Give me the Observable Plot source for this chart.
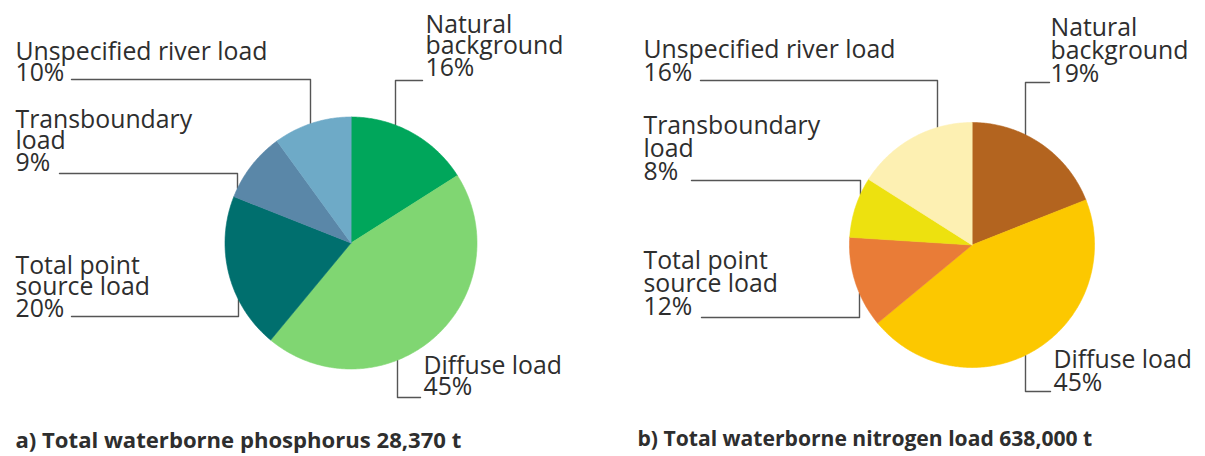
<!DOCTYPE html>
<html><head><meta charset="utf-8">
<script src="https://cdn.jsdelivr.net/npm/d3@7"></script>
<script src="https://cdn.jsdelivr.net/npm/@observablehq/plot@0.6"></script>
<style>
html,body{margin:0;padding:0;background:#fff;}
#chart{width:1205px;height:456px;}
</style>
</head><body><div id="chart"></div>
<script>
// ---- data ----
const categories = ["Natural background", "Diffuse load", "Total point source load", "Transboundary load", "Unspecified river load"];
const labelText = ["Natural\nbackground", "Diffuse load", "Total point\nsource load", "Transboundary\nload", "Unspecified river load"];
const phosphorusShares = [16, 45, 20, 9, 10];
const nitrogenShares = [19, 45, 12, 8, 16];
const chartTitles = ["a) Total waterborne phosphorus 28,370 t", "b) Total waterborne nitrogen load 638,000 t"];

// ---- styles ----
const phosphorusColors = ["#00a65b", "#80d672", "#006f6e", "#5a87a8", "#6eaac7"];
const nitrogenColors = ["#b3641f", "#fcc800", "#e97c37", "#ede10f", "#fdf0b2"];
const textColor = "#2e2e2e";
const leaderColor = "#555555";
const FONT = "'Open Sans', 'Noto Sans', sans-serif";
const LABEL_SIZE = 24.8;

// ---- layout (pixel positions) ----
const layouts = [
  {cx: 350.5, cy: 242.5, r: 126, titleX: 15, titleY: 447, titleSize: 22.1, lh: 21.5,
   labels: [
     {x: 425, y: 32, vx: 395, hy: 80, hx: 422},
     {x: 423, y: 373, vx: 397, hy: 397, hx: 420},
     {x: 15, y: 273, vx: 238, hy: 316, hx: 71},
     {x: 15, y: 127, vx: 237, hy: 173, hx: 59},
     {x: 15, y: 59, vx: 310, hy: 79, hx: 71}
   ]},
  {cx: 971.5, cy: 244.5, r: 122.5, titleX: 637, titleY: 445, titleSize: 21.1, lh: 23,
   labels: [
     {x: 1050, y: 35, vx: 1025, hy: 82, hx: 1049},
     {x: 1053, y: 367, vx: 1025, hy: 391, hx: 1050},
     {x: 643, y: 268, vx: 859, hy: 317, hx: 701},
     {x: 643, y: 133, vx: 860, hy: 180, hx: 691},
     {x: 643, y: 57, vx: 937, hy: 80, hx: 700}
   ]}
];

const charts = [
  {shares: phosphorusShares, colors: phosphorusColors},
  {shares: nitrogenShares, colors: nitrogenColors}
];

const slicePts = [];
const leaderPts = [];
const labelRows = [[], []];
const titleRows = [[], []];

charts.forEach((c, ci) => {
  const L = layouts[ci];
  const arcs = d3.pie().sort(null).value(d => d)(c.shares);
  arcs.forEach((a, i) => {
    const id = `${ci}-${i}`;
    slicePts.push({id, x: L.cx, y: L.cy, color: c.colors[i]});
    const n = Math.max(2, Math.ceil((a.endAngle - a.startAngle) / 0.01));
    for (let k = 0; k <= n; k++) {
      const t = a.startAngle + (a.endAngle - a.startAngle) * k / n;
      slicePts.push({id, x: L.cx + L.r * Math.sin(t), y: L.cy - L.r * Math.cos(t), color: c.colors[i]});
    }
    // label (one multi-line text, last baseline at y)
    const lab = L.labels[i];
    const lines = labelText[i].split("\n").concat([`${c.shares[i]}%`]);
    labelRows[ci].push({x: lab.x, y: lab.y + (lines.length - 1) * L.lh, text: lines.join("\n"), category: categories[i]});
    // leader line: from text, elbow, to pie edge
    const dx = lab.vx - L.cx;
    const h = Math.sqrt(Math.max(0, L.r * L.r - dx * dx));
    const edgeY = lab.hy < L.cy ? L.cy - h : L.cy + h;
    leaderPts.push({id, x: lab.hx, y: lab.hy});
    leaderPts.push({id, x: lab.vx, y: lab.hy});
    leaderPts.push({id, x: lab.vx, y: edgeY});
  });
  titleRows[ci].push({x: L.titleX, y: L.titleY, text: chartTitles[ci]});
});

const textOpts = (lh) => ({x: "x", y: "y", text: "text", textAnchor: "start", lineAnchor: "bottom",
  lineHeight: lh / LABEL_SIZE, fontSize: LABEL_SIZE, fill: textColor});
const titleOpts = (size) => ({x: "x", y: "y", text: "text", textAnchor: "start", lineAnchor: "bottom",
  fontSize: size, fontWeight: "bold", fill: textColor});

const plot = Plot.plot({
  width: 1205,
  height: 456,
  margin: 0,
  x: {domain: [0, 1205], range: [0, 1205], axis: null},
  y: {domain: [0, 456], range: [0, 456], axis: null},
  style: {fontFamily: FONT, background: "#ffffff"},
  marks: [
    Plot.line(leaderPts, {x: "x", y: "y", z: "id", stroke: leaderColor, strokeWidth: 1.4, curve: "linear"}),
    Plot.line(slicePts, {x: "x", y: "y", z: "id", fill: "color", stroke: "color", strokeWidth: 0.6, curve: "linear-closed"}),
    Plot.text(labelRows[0], textOpts(layouts[0].lh)),
    Plot.text(labelRows[1], textOpts(layouts[1].lh)),
    Plot.text(titleRows[0], titleOpts(layouts[0].titleSize)),
    Plot.text(titleRows[1], titleOpts(layouts[1].titleSize))
  ]
});
document.getElementById("chart").appendChild(plot);
</script>
</body></html>
